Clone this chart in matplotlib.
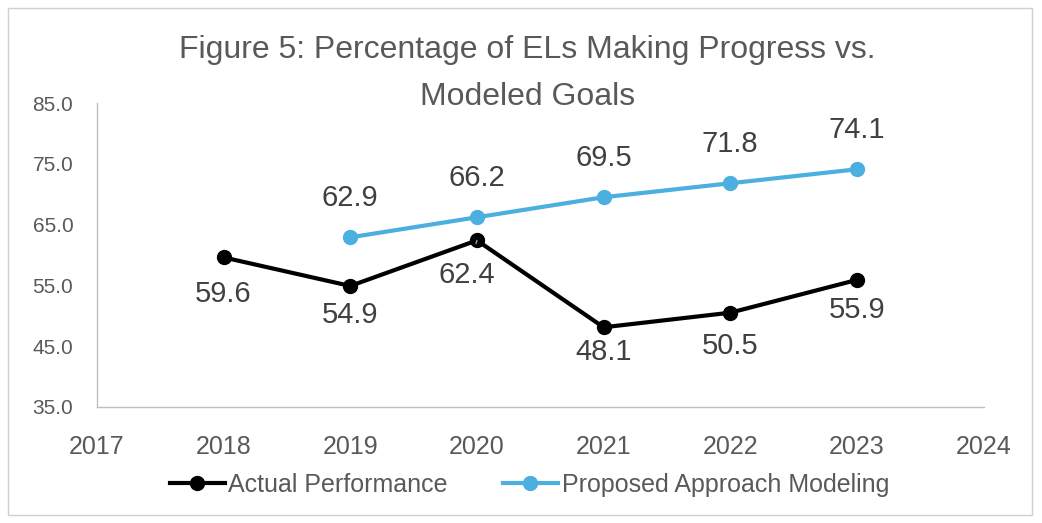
import matplotlib.pyplot as plt
from matplotlib.patches import Rectangle

# data
years_actual = [2018, 2019, 2020, 2021, 2022, 2023]
actual = [59.6, 54.9, 62.4, 48.1, 50.5, 55.9]
years_model = [2019, 2020, 2021, 2022, 2023]
model = [62.9, 66.2, 69.5, 71.8, 74.1]
yticks = [35, 45, 55, 65, 75, 85]
xticks = [2017, 2018, 2019, 2020, 2021, 2022, 2023, 2024]

# label offsets (points) for the actual series, as placed in the original
actual_dy = [-26, -21, -25, -18, -24, -22]

plt.rcParams['font.family'] = ['Liberation Sans', 'DejaVu Sans']
blue = '#4bafe0'
txt = '#404040'
grey = '#595959'

fig = plt.figure(figsize=(10.42, 5.23), dpi=100)
ax = fig.add_axes([0.093, 0.222, 0.851, 0.581])

ax.plot(years_actual, actual, color='black', lw=3, marker='o', ms=10,
        label='Actual Performance')
ax.plot(years_model, model, color=blue, lw=3, marker='o', ms=10,
        label='Proposed Approach Modeling')

# data labels
for x, y, dy in zip(years_actual, actual, actual_dy):
    if x == 2020:
        ax.annotate(f'{y:.1f}', (x, y), xytext=(-7, dy), textcoords='offset points',
                    ha='center', va='center', fontsize=21, color=txt,
                    arrowprops=dict(arrowstyle='-', color='#a0a0a0', lw=1,
                                    shrinkA=11, shrinkB=4))
    else:
        ax.annotate(f'{y:.1f}', (x, y), xytext=(0, dy), textcoords='offset points',
                    ha='center', va='center', fontsize=21, color=txt)
for x, y in zip(years_model, model):
    ax.annotate(f'{y:.1f}', (x, y), xytext=(0, 28), textcoords='offset points',
                ha='center', va='center', fontsize=21, color=txt)

ax.set_xlim(2017, 2024)
ax.set_ylim(35, 85)
ax.set_xticks(xticks)
ax.set_yticks(yticks)
ax.set_yticklabels([f'{v:.1f}' for v in yticks])
ax.tick_params(axis='both', length=0, colors=grey)
ax.tick_params(axis='x', pad=20, labelsize=18)
ax.tick_params(axis='y', pad=17, labelsize=15)
for s in ['top', 'right']:
    ax.spines[s].set_visible(False)
for s in ['left', 'bottom']:
    ax.spines[s].set_color('#bfbfbf')
    ax.spines[s].set_linewidth(1)

fig.text(0.506, 0.904, 'Figure 5: Percentage of ELs Making Progress vs.',
         ha='center', va='center', fontsize=23, color=grey)
fig.text(0.506, 0.815, 'Modeled Goals',
         ha='center', va='center', fontsize=23, color=grey)

leg = fig.legend(loc='center', bbox_to_anchor=(0.508, 0.073), ncol=2, frameon=False,
                 fontsize=18, handlelength=2.2, columnspacing=2.2, handletextpad=0.15)
for t in leg.get_texts():
    t.set_color(grey)

fig.patches.append(Rectangle((0.008, 0.015), 0.982, 0.97, transform=fig.transFigure,
                             fill=False, edgecolor='#d0d0d0', lw=1))

fig.savefig('out.png', dpi=100)
